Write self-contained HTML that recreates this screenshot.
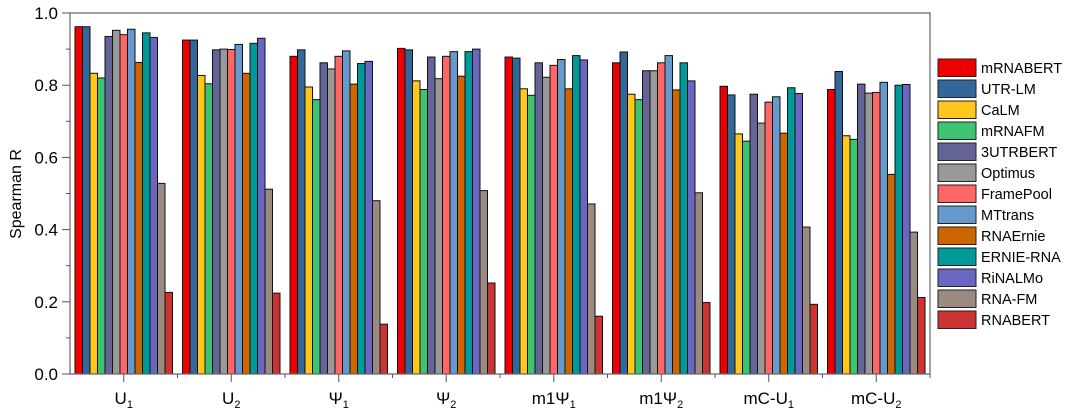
<!DOCTYPE html>
<html><head><meta charset="utf-8"><style>
body{margin:0;background:#fff;}
svg{display:block;font-family:"Liberation Sans",Arial,sans-serif;}
</style></head><body>
<svg id="s" width="1080" height="412" xmlns="http://www.w3.org/2000/svg"></svg>
<script>
const S=document.getElementById('s');
const colors=['#ee0000','#336699','#ffc61e','#3cc472','#646496','#999999','#ff6666','#6699cc','#cc6600','#009999','#6a66c2','#9a8a80','#cc3333'];
const names=['mRNABERT','UTR-LM','CaLM','mRNAFM','3UTRBERT','Optimus','FramePool','MTtrans','RNAErnie','ERNIE-RNA','RiNALMo','RNA-FM','RNABERT'];
const data=[
[.962,.962,.833,.820,.935,.952,.940,.955,.863,.945,.932,.528,.226],
[.925,.925,.827,.804,.898,.900,.899,.913,.833,.916,.930,.512,.224],
[.880,.898,.795,.760,.862,.845,.880,.895,.803,.860,.866,.480,.138],
[.902,.898,.812,.788,.878,.818,.880,.893,.825,.893,.900,.508,.252],
[.878,.875,.790,.772,.862,.822,.855,.871,.790,.882,.870,.471,.160],
[.862,.892,.775,.760,.840,.840,.862,.882,.787,.862,.812,.502,.198],
[.797,.773,.665,.645,.775,.695,.753,.768,.667,.793,.777,.407,.193],
[.788,.838,.660,.650,.803,.778,.780,.808,.553,.800,.802,.393,.212]];
const labels=[['U','1'],['U','2'],['Ψ','1'],['Ψ','2'],['m1Ψ','1'],['m1Ψ','2'],['mC-U','1'],['mC-U','2']];
const L=70,R=930,T=13,B=374,gw=(R-L)/8,bw=7.5;
const y=v=>B-v*(B-T);
let h='';
data.forEach((g,i)=>{
 const x0=L+i*gw+5;
 g.forEach((v,j)=>{h+=`<rect x="${x0+j*bw}" y="${y(v)}" width="${bw}" height="${B-y(v)}" fill="${colors[j]}" stroke="#111" stroke-width="1"/>`;});
 const cx=L+i*gw+gw/2;
 h+=`<line x1="${cx}" y1="${B}" x2="${cx}" y2="${B+8}" stroke="#555"/>`;
 h+=`<line x1="${L+(i+1)*gw}" y1="${B}" x2="${L+(i+1)*gw}" y2="${B+4}" stroke="#555"/>`;
 h+=`<text x="${cx}" y="${B+30}" font-size="17" text-anchor="middle">${labels[i][0]}<tspan font-size="11" dy="4">${labels[i][1]}</tspan></text>`;
});
h+=`<path d="M${L},${T}H${R}V${B}H${L}Z" fill="none" stroke="#666" stroke-width="1.2"/>`;
for(let k=0;k<=10;k++){const yy=y(k/10);const major=k%2==0;
 h+=`<line x1="${L-(major?8:4)}" y1="${yy}" x2="${L}" y2="${yy}" stroke="#555"/>`;
 if(major)h+=`<text x="${L-12}" y="${yy+6}" font-size="17" text-anchor="end">${(k/10).toFixed(1)}</text>`;}
h+=`<text transform="translate(21,194) rotate(-90)" font-size="16" text-anchor="middle">Spearman R</text>`;
names.forEach((n,j)=>{const yy=59+j*21;
 h+=`<rect x="938" y="${yy}" width="38" height="17.5" fill="${colors[j]}" stroke="#222" stroke-width="1"/>`;
 h+=`<text x="981" y="${yy+14}" font-size="14.5">${n}</text>`;});
S.innerHTML=h;
</script>
</body></html>
